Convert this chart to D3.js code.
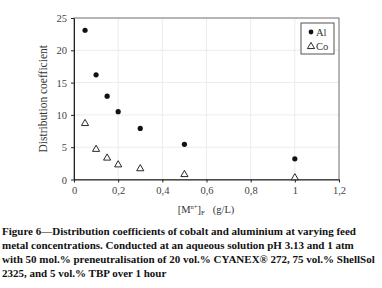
<!DOCTYPE html>
<html lang="en">
<head>
  <meta charset="utf-8">
  <title>Figure 6</title>
  <style>
    html, body { margin: 0; padding: 0; background: #fff; overflow: hidden; }
    svg { display: block; }
    svg text { font-family: "Liberation Serif", "DejaVu Serif", serif; }
    .axis text { fill: #444; font-size: 10.5px; }
    .axis .domain { stroke: #222; }
    .axis .tick line { stroke: #222; }
    .grid line { stroke: #ececec; }
    .caption { font-weight: bold; font-size: 11px; fill: #111; }
  </style>
</head>
<body>
  <script src="https://d3js.org/d3.v7.min.js"></script>
  <svg width="382" height="288"></svg>
  <script>
    // data
    var conc = [0.05, 0.1, 0.15, 0.2, 0.3, 0.5, 1.0];
    var al = [23.1, 16.2, 12.9, 10.5, 7.9, 5.45, 3.2];
    var co = [8.75, 4.75, 3.4, 2.35, 1.75, 0.85, 0.35];
    var xTicks = [0, 0.2, 0.4, 0.6, 0.8, 1, 1.2];
    var yTicks = [0, 5, 10, 15, 20, 25];
    var captionLines = [
      "Figure 6\u2014Distribution coefficients of cobalt and aluminium at varying feed",
      "metal concentrations. Conducted at an aqueous solution pH 3.13 and 1 atm",
      "with 50 mol.% preneutralisation of 20 vol.% CYANEX\u00ae 272, 75 vol.% ShellSol",
      "2325, and 5 vol.% TBP over 1 hour"
    ];

    const margin = { left: 74, top: 18 };
    const innerWidth = 265;
    const innerHeight = 161.5;

    const svg = d3.select('svg');
    const g = svg.append("g").attr("transform", "translate(" + margin.left + "," + margin.top + ")");

    var x = d3.scaleLinear().domain([0, 1.2]).range([0, innerWidth]);
    var y = d3.scaleLinear().domain([0, 25]).range([innerHeight, 0]);

    var fmt = function (d) { return String(d).replace(".", ","); };

    // faint grid
    var grid = g.append("g").attr("class", "grid");
    grid.selectAll(".gy").data(yTicks).enter().append("line")
      .attr("x1", 0).attr("x2", innerWidth)
      .attr("y1", function (d) { return y(d); }).attr("y2", function (d) { return y(d); });
    grid.selectAll(".gx").data(xTicks).enter().append("line")
      .attr("y1", 0).attr("y2", innerHeight)
      .attr("x1", function (d) { return x(d); }).attr("x2", function (d) { return x(d); });

    // frame
    g.append("rect")
      .attr("width", innerWidth).attr("height", innerHeight)
      .attr("fill", "none").attr("stroke", "#777").attr("stroke-width", 1);

    g.append("g").attr("class", "axis")
      .attr("transform", "translate(0," + innerHeight + ")")
      .call(d3.axisBottom(x).tickValues(xTicks).tickSize(3).tickSizeOuter(0).tickFormat(fmt))
      .call(function (a) { a.selectAll("text").attr("dy", "0.85em"); });

    g.append("g").attr("class", "axis")
      .call(d3.axisLeft(y).tickValues(yTicks).tickSize(3).tickSizeOuter(0))
      .call(function (a) { a.selectAll("text").attr("x", -7).attr("dy", "0.35em"); });

    // axis titles
    svg.append("text")
      .attr("transform", "translate(47," + (margin.top + innerHeight / 2) + ") rotate(-90)")
      .attr("text-anchor", "middle")
      .attr("font-size", 11.5).attr("fill", "#333")
      .text("Distribution coefficient");

    var xl = svg.append("text")
      .attr("x", 206).attr("y", 213)
      .attr("text-anchor", "middle")
      .attr("font-size", 10.5).attr("fill", "#333");
    xl.append("tspan").text("[M");
    xl.append("tspan").attr("font-size", 6.5).attr("dy", -4).text("n+");
    xl.append("tspan").attr("dy", 4).text("]");
    xl.append("tspan").attr("font-size", 7).attr("dy", 2).text("F");
    xl.append("tspan").attr("dy", -2).attr("xml:space", "preserve").text("\u2002 (g/L)");

    // series
    g.selectAll(".al").data(conc).enter().append("circle")
      .attr("class", "al")
      .attr("cx", function (d) { return x(d); })
      .attr("cy", function (d, i) { return y(al[i]); })
      .attr("r", 2.6).attr("fill", "#111");

    var tri = d3.symbol().type(d3.symbolTriangle).size(22);
    g.selectAll(".co").data(conc).enter().append("path")
      .attr("class", "co")
      .attr("d", tri)
      .attr("transform", function (d, i) { return "translate(" + x(d) + "," + (y(co[i]) + 0.5) + ")"; })
      .attr("fill", "#fff").attr("stroke", "#111").attr("stroke-width", 0.9);

    // legend
    var lg = svg.append("g").attr("transform", "translate(301,23)");
    lg.append("rect").attr("width", 33).attr("height", 31)
      .attr("fill", "#fff").attr("stroke", "#555").attr("stroke-width", 1);
    lg.append("circle").attr("cx", 10).attr("cy", 9).attr("r", 2.4).attr("fill", "#111");
    lg.append("text").attr("x", 15).attr("y", 12.5).attr("font-size", 10.5).attr("fill", "#333").text("Al");
    lg.append("path").attr("d", tri).attr("transform", "translate(10,23.5)")
      .attr("fill", "#fff").attr("stroke", "#111").attr("stroke-width", 0.9);
    lg.append("text").attr("x", 15).attr("y", 27).attr("font-size", 10.5).attr("fill", "#333").text("Co");

    // caption
    svg.selectAll(".caption").data(captionLines).enter().append("text")
      .attr("class", "caption")
      .attr("x", 2)
      .attr("y", function (d, i) { return 235 + i * 14; })
      .text(function (d) { return d; });
  </script>
</body>
</html>
